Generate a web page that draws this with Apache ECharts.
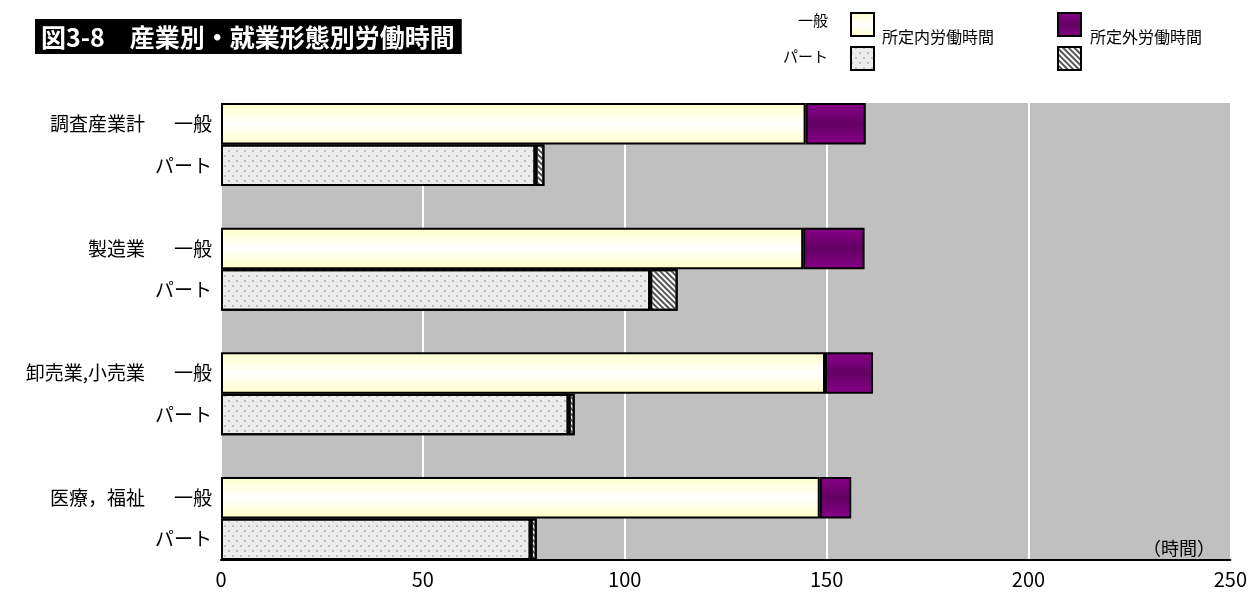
<!DOCTYPE html>
<html>
<head>
<meta charset="utf-8">
<script src="https://cdn.jsdelivr.net/npm/echarts@6/dist/echarts.min.js"></script>
<style>
  html, body { margin: 0; padding: 0; background: #fff; }
  #chart { width: 1250px; height: 592px; }
</style>
</head>
<body>
<div id="chart"></div>
<script>
const FONT = '"Noto Sans CJK JP", "Noto Sans", sans-serif';

const categories = ['調査産業計', '製造業', '卸売業,小売業', '医療，福祉'];
const ippanShotei = [144.8, 144.2, 149.6, 148.3];
const ippanChoka = [14.9, 15.2, 11.9, 7.8];
const partShotei = [77.9, 106.3, 86.1, 76.7];
const partChoka = [2.2, 6.8, 1.5, 1.5];
const xTicks = [0, 50, 100, 150, 200, 250];

// each industry takes 3 rows: 一般, パート, blank (no blank after the last one)
const rows = [];
categories.forEach((c, i) => {
  rows.push('g' + i, 'p' + i);
  if (i < categories.length - 1) rows.push('x' + i);
});

function pick(kind, arr) {
  return rows.map(r => (r[0] === kind ? arr[+r.slice(1)] : '-'));
}

const chart = echarts.init(document.getElementById('chart'));

const border = { borderColor: '#000', borderWidth: 2 };
const creamFill = new echarts.graphic.LinearGradient(0, 0, 0, 1, [
  { offset: 0, color: '#FFFFC8' },
  { offset: 0.5, color: '#FFFFFF' },
  { offset: 1, color: '#FFFFC8' }
]);
const purpleFill = new echarts.graphic.LinearGradient(0, 0, 0, 1, [
  { offset: 0, color: '#880088' },
  { offset: 0.5, color: '#640064' },
  { offset: 1, color: '#880088' }
]);
const dotDecal = {
  symbol: 'circle',
  symbolSize: 0.8,
  color: 'rgba(110,110,110,0.8)',
  dashArrayX: [[2, 6], [0, 4, 2, 2]],
  dashArrayY: [2, 3]
};
const hatchDecal = {
  symbol: 'rect',
  symbolSize: 1,
  color: '#555',
  dashArrayX: [1, 0],
  dashArrayY: [2, 2],
  rotation: Math.PI / 4
};

function iconLegend(name, left, top) {
  return {
    data: [name],
    left: left,
    top: top,
    padding: 0,
    itemWidth: 23,
    itemHeight: 23,
    icon: 'rect',
    selectedMode: false,
    formatter: () => ''
  };
}

const option = {
  backgroundColor: '#fff',
  animation: false,
  title: {
    text: '図3-8　産業別・就業形態別労働時間',
    left: 35,
    top: 19,
    padding: [5, 7, 4, 6],
    backgroundColor: '#000',
    textStyle: { color: '#fff', fontFamily: FONT, fontSize: 25, fontWeight: 'bold', lineHeight: 26 }
  },
  legend: [
    iconLegend('所定内労働時間', 850, 12),
    iconLegend('所定外労働時間', 1057, 12),
    iconLegend('パート所定内', 850, 46),
    iconLegend('パート所定外', 1057, 46)
  ],
  graphic: [
    { type: 'text', right: 422, top: 13, style: { text: '一般', font: '15px ' + FONT, fill: '#000' } },
    { type: 'text', right: 422, top: 49, style: { text: 'パート', font: '15px ' + FONT, fill: '#000' } },
    { type: 'text', left: 882, top: 29, style: { text: '所定内労働時間', font: '16px ' + FONT, fill: '#000' } },
    { type: 'text', left: 1090, top: 29, style: { text: '所定外労働時間', font: '16px ' + FONT, fill: '#000' } },
    { type: 'text', left: 1143, top: 539, style: { text: '（時間）', font: '18px ' + FONT, fill: '#000' } }
  ],
  grid: {
    left: 221, right: 18, top: 103, bottom: 32,
    show: true, backgroundColor: '#C0C0C0', borderWidth: 0
  },
  xAxis: {
    type: 'value',
    min: xTicks[0],
    max: xTicks[xTicks.length - 1],
    interval: 50,
    axisLine: { show: true, lineStyle: { color: '#000', width: 2 } },
    axisTick: { show: false },
    axisLabel: { color: '#000', fontSize: 20, fontFamily: FONT, margin: 9 },
    splitLine: { show: true, lineStyle: { color: '#fff', width: 2 } }
  },
  yAxis: {
    type: 'category',
    inverse: true,
    data: rows,
    axisLine: { show: false },
    axisTick: { show: false },
    axisLabel: {
      margin: 9,
      fontFamily: FONT,
      fontSize: 19,
      color: '#000',
      formatter: v => {
        const i = +v.slice(1);
        if (v[0] === 'g') return '{c|' + categories[i] + '}{s|一般}';
        if (v[0] === 'p') return '{s|パート}';
        return '';
      },
      rich: {
        c: { fontFamily: FONT, fontSize: 19, color: '#000' },
        s: { fontFamily: FONT, fontSize: 19, color: '#000', width: 67, align: 'right' }
      }
    }
  },
  series: [
    {
      name: '所定内労働時間', type: 'bar', stack: 'h', barCategoryGap: '0%',
      itemStyle: Object.assign({ color: creamFill }, border),
      data: pick('g', ippanShotei)
    },
    {
      name: '所定外労働時間', type: 'bar', stack: 'h', barCategoryGap: '0%',
      itemStyle: Object.assign({ color: purpleFill }, border),
      data: pick('g', ippanChoka)
    },
    {
      name: 'パート所定内', type: 'bar', stack: 'h', barCategoryGap: '0%',
      itemStyle: Object.assign({ color: '#ECECEC', decal: dotDecal }, border),
      data: pick('p', partShotei)
    },
    {
      name: 'パート所定外', type: 'bar', stack: 'h', barCategoryGap: '0%',
      itemStyle: Object.assign({ color: '#FFFFFF', decal: hatchDecal }, border),
      data: pick('p', partChoka)
    }
  ]
};

chart.setOption(option);
</script>
</body>
</html>
